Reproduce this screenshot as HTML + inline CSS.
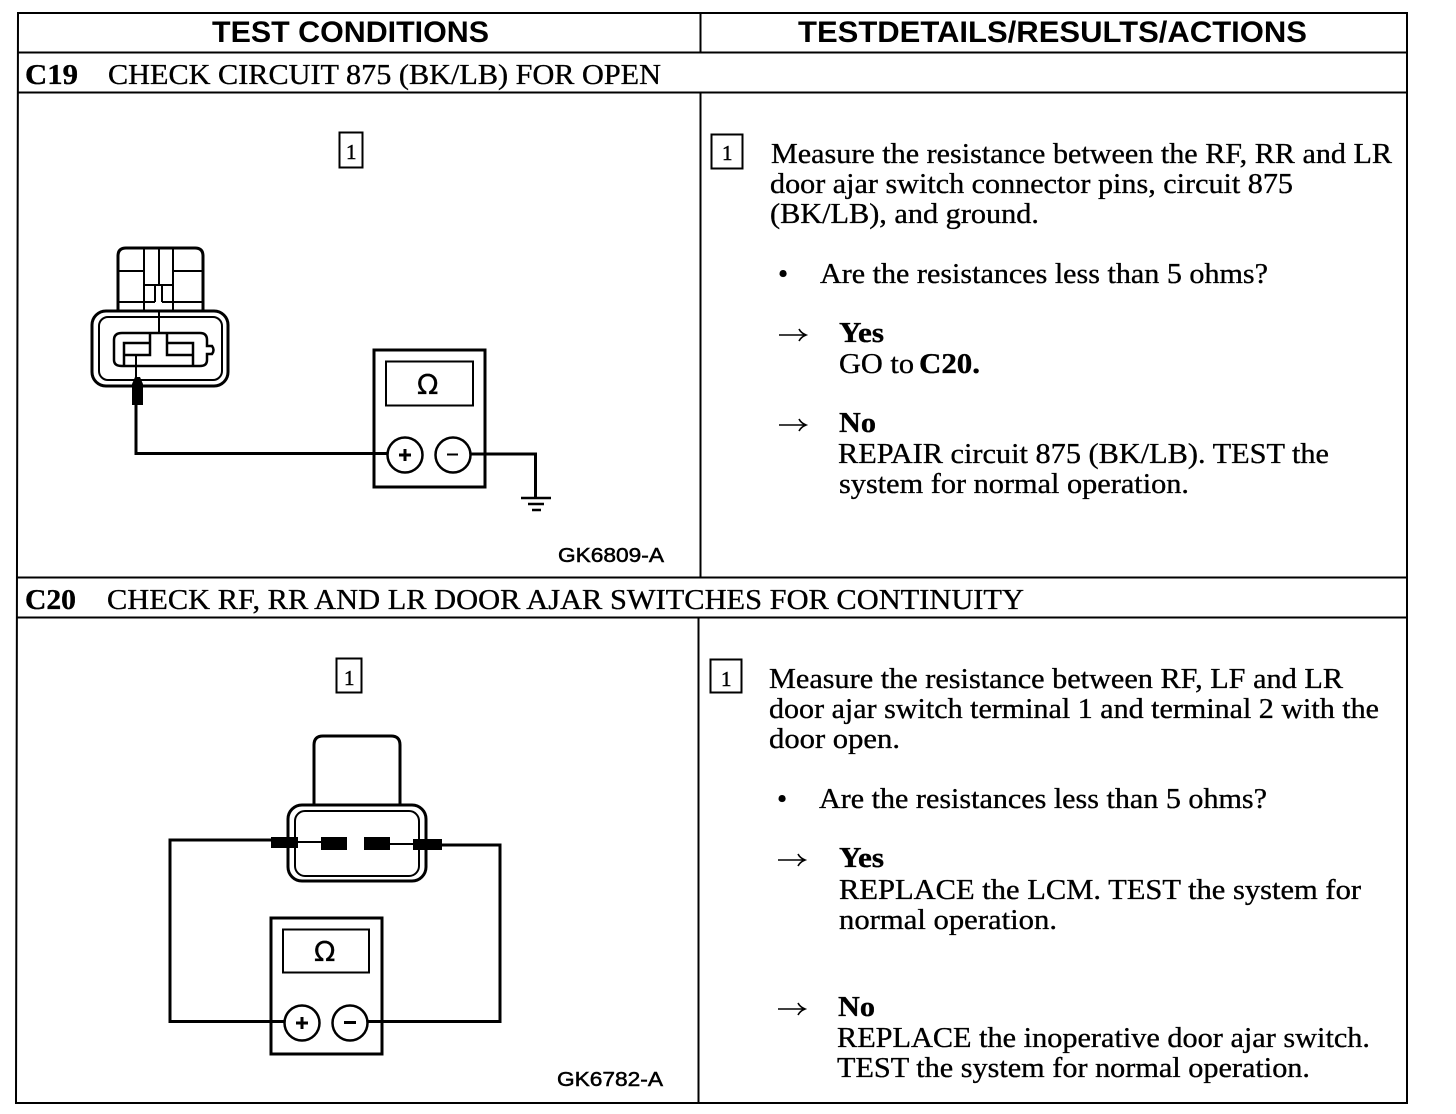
<!DOCTYPE html>
<html>
<head>
<meta charset="utf-8">
<style>
html,body{margin:0;padding:0;background:#fff;}
svg{display:block;}
text{font-family:"Liberation Serif",serif;font-size:29px;fill:#000;stroke:#000;stroke-width:.35px;}
.s{font-family:"Liberation Sans",sans-serif;font-size:20px;stroke-width:.5px;}
.h{font-family:"Liberation Sans",sans-serif;font-weight:bold;font-size:30px;stroke-width:0;}
.b{font-weight:bold;}
.d{font-size:21px;stroke-width:.5px;}
.o{font-family:"DejaVu Sans",sans-serif;font-size:28px;stroke-width:.3px;}
.l{fill:none;stroke:#000;stroke-width:2;}
.m{fill:none;stroke:#000;stroke-width:3;}
.a{fill:none;stroke:#000;stroke-width:1.600;}
</style>
</head>
<body>
<svg width="1456" height="1114" viewBox="0 0 1456 1114" xmlns="http://www.w3.org/2000/svg">
<rect width="1456" height="1114" fill="#fff"/>
<!-- table -->
<g class="l">
<path d="M18 13H1407V1103H16Z"/>
<path d="M18 52.500H1407"/>
<path d="M17 92.500H1407"/>
<path d="M17 577.500H1407"/>
<path d="M16 617.500H1407"/>
<path d="M700.500 13V52"/>
<path d="M700.500 93V577"/>
<path d="M698.500 618V1103"/>
</g>
<text class="h" x="212" y="42" textLength="277" lengthAdjust="spacingAndGlyphs">TEST CONDITIONS</text>
<text class="h" x="798" y="42" textLength="509" lengthAdjust="spacingAndGlyphs">TESTDETAILS/RESULTS/ACTIONS</text>
<text class="b" x="25" y="84" textLength="53" lengthAdjust="spacingAndGlyphs">C19</text>
<text x="108" y="84" textLength="553" lengthAdjust="spacingAndGlyphs">CHECK CIRCUIT 875 (BK/LB) FOR OPEN</text>
<text class="b" x="25" y="609" textLength="51" lengthAdjust="spacingAndGlyphs">C20</text>
<text x="107" y="609" textLength="917" lengthAdjust="spacingAndGlyphs">CHECK RF, RR AND LR DOOR AJAR SWITCHES FOR CONTINUITY</text>

<!-- boxes with 1 -->
<g class="l">
<rect x="339.500" y="132.500" width="23" height="35"/>
<rect x="711.500" y="134.500" width="31" height="34"/>
<rect x="336.500" y="658.500" width="25" height="34"/>
<rect x="710.500" y="659.500" width="31" height="33"/>
</g>
<text class="d" x="346" y="159">1</text>
<text class="d" x="722" y="160">1</text>
<text class="d" x="344" y="685">1</text>
<text class="d" x="721" y="686">1</text>

<!-- right column C19 -->
<text x="771" y="163" textLength="621" lengthAdjust="spacingAndGlyphs">Measure the resistance between the RF, RR and LR</text>
<text x="770" y="193" textLength="523" lengthAdjust="spacingAndGlyphs">door ajar switch connector pins, circuit 875</text>
<text x="770" y="223" textLength="269" lengthAdjust="spacingAndGlyphs">(BK/LB), and ground.</text>
<text x="778" y="283">•</text>
<text x="820" y="283" textLength="448" lengthAdjust="spacingAndGlyphs">Are the resistances less than 5 ohms?</text>
<path class="a" d="M779 335H805M799 329Q801 333 806 335Q801 337 799 341"/>
<text class="b" x="839" y="342" textLength="45" lengthAdjust="spacingAndGlyphs">Yes</text>
<text x="839" y="373" textLength="75" lengthAdjust="spacingAndGlyphs">GO to</text>
<text class="b" x="919" y="373" textLength="61" lengthAdjust="spacingAndGlyphs">C20.</text>
<path class="a" d="M779 425H805M799 419Q801 423 806 425Q801 427 799 431"/>
<text class="b" x="839" y="432" textLength="37" lengthAdjust="spacingAndGlyphs">No</text>
<text x="838" y="463" textLength="491" lengthAdjust="spacingAndGlyphs">REPAIR circuit 875 (BK/LB). TEST the</text>
<text x="839" y="493" textLength="350" lengthAdjust="spacingAndGlyphs">system for normal operation.</text>

<!-- right column C20 -->
<text x="769" y="688" textLength="574" lengthAdjust="spacingAndGlyphs">Measure the resistance between RF, LF and LR</text>
<text x="769" y="718" textLength="610" lengthAdjust="spacingAndGlyphs">door ajar switch terminal 1 and terminal 2 with the</text>
<text x="769" y="748" textLength="131" lengthAdjust="spacingAndGlyphs">door open.</text>
<text x="777" y="808">•</text>
<text x="819" y="808" textLength="448" lengthAdjust="spacingAndGlyphs">Are the resistances less than 5 ohms?</text>
<path class="a" d="M778 860H804M798 854Q800 858 805 860Q800 862 798 866"/>
<text class="b" x="839" y="867" textLength="45" lengthAdjust="spacingAndGlyphs">Yes</text>
<text x="839" y="899" textLength="522" lengthAdjust="spacingAndGlyphs">REPLACE the LCM.  TEST the system for</text>
<text x="839" y="929" textLength="218" lengthAdjust="spacingAndGlyphs">normal operation.</text>
<path class="a" d="M778 1009H804M798 1003Q800 1007 805 1009Q800 1011 798 1015"/>
<text class="b" x="838" y="1016" textLength="37" lengthAdjust="spacingAndGlyphs">No</text>
<text x="837" y="1047" textLength="533" lengthAdjust="spacingAndGlyphs">REPLACE the inoperative door ajar switch.</text>
<text x="837" y="1077" textLength="473" lengthAdjust="spacingAndGlyphs">TEST the system for normal operation.</text>

<!-- figure labels -->
<text class="s" x="558" y="562" textLength="106" lengthAdjust="spacingAndGlyphs">GK6809-A</text>
<text class="s" x="557" y="1086" textLength="106" lengthAdjust="spacingAndGlyphs">GK6782-A</text>

<!-- C19 connector -->
<g class="m">
<path d="M118 311V256Q118 248 126 248H195Q203 248 203 256V311"/>
<rect x="92" y="311" width="136" height="75" rx="14"/>
</g>
<g class="l">
<rect x="99" y="317" width="123" height="63" rx="9"/>
<path d="M118 271H144M173 271H203M118 302H155M162 302H203"/>
<path d="M144 248V311M159 248V285M173 248V311"/>
<path d="M144 285H173M155 285V302M162 285V302"/>
<path d="M159 311V333"/>
<path d="M122 333H200Q207 333 207 340V346H212Q215 350 212 354H207V360Q207 366 200 366H122Q114 366 114 360V340Q114 333 122 333Z" stroke-width="2.500"/>
<path d="M124 343H150V355H124ZM124 355V366M150 333V355M167 333V355H193M167 343H193V366" stroke-width="2.500"/>
<path d="M136 355V378"/>
</g>
<path d="M135 377H140L143 384V405H132V384Z" fill="#000"/>
<path d="M136 405V453.500H388" class="m"/>

<!-- C19 meter -->
<rect x="374" y="350" width="111" height="137" class="m"/>
<rect x="386" y="361.500" width="87" height="44" class="l"/>
<text class="o" x="417" y="394">Ω</text>
<circle cx="405" cy="455" r="17.500" fill="#fff" stroke="#000" stroke-width="2.500"/>
<circle cx="453" cy="455" r="17.500" fill="#fff" stroke="#000" stroke-width="2.500"/>
<path d="M399 455H411M405 449V461" stroke="#000" stroke-width="3"/>
<path d="M447 454.500H458" stroke="#000" stroke-width="2"/>
<path d="M471 454H535.500V497" class="m"/>
<path d="M521 498H551M528 504H544M532 510H541" stroke="#000" stroke-width="2.500"/>

<!-- C20 connector -->
<g class="m">
<path d="M314 805V745Q314 736 323 736H391Q400 736 400 745V805"/>
<rect x="288" y="805" width="138" height="76" rx="14"/>
</g>
<rect x="295" y="811" width="124" height="65" rx="10" class="l"/>
<path d="M285 1021.500H170V840H272M367 1021.500H500V845H441" class="m"/>
<path d="M295 842H322M390 844H415" stroke="#000" stroke-width="2"/>
<rect x="271" y="837" width="27" height="11" fill="#000"/>
<rect x="321" y="837" width="26" height="13" fill="#000"/>
<rect x="364" y="837" width="26" height="13" fill="#000"/>
<rect x="413" y="839" width="29" height="11" fill="#000"/>

<!-- C20 meter -->
<rect x="271" y="918" width="111" height="136" class="m"/>
<rect x="283" y="929.500" width="86" height="43" class="l"/>
<text class="o" x="314" y="961">Ω</text>
<circle cx="302" cy="1023" r="17.500" fill="#fff" stroke="#000" stroke-width="2.500"/>
<circle cx="350" cy="1023" r="17.500" fill="#fff" stroke="#000" stroke-width="2.500"/>
<path d="M296 1023H308M302 1017V1029" stroke="#000" stroke-width="3"/>
<path d="M344 1022.500H356" stroke="#000" stroke-width="3"/>
</svg>
</body>
</html>
